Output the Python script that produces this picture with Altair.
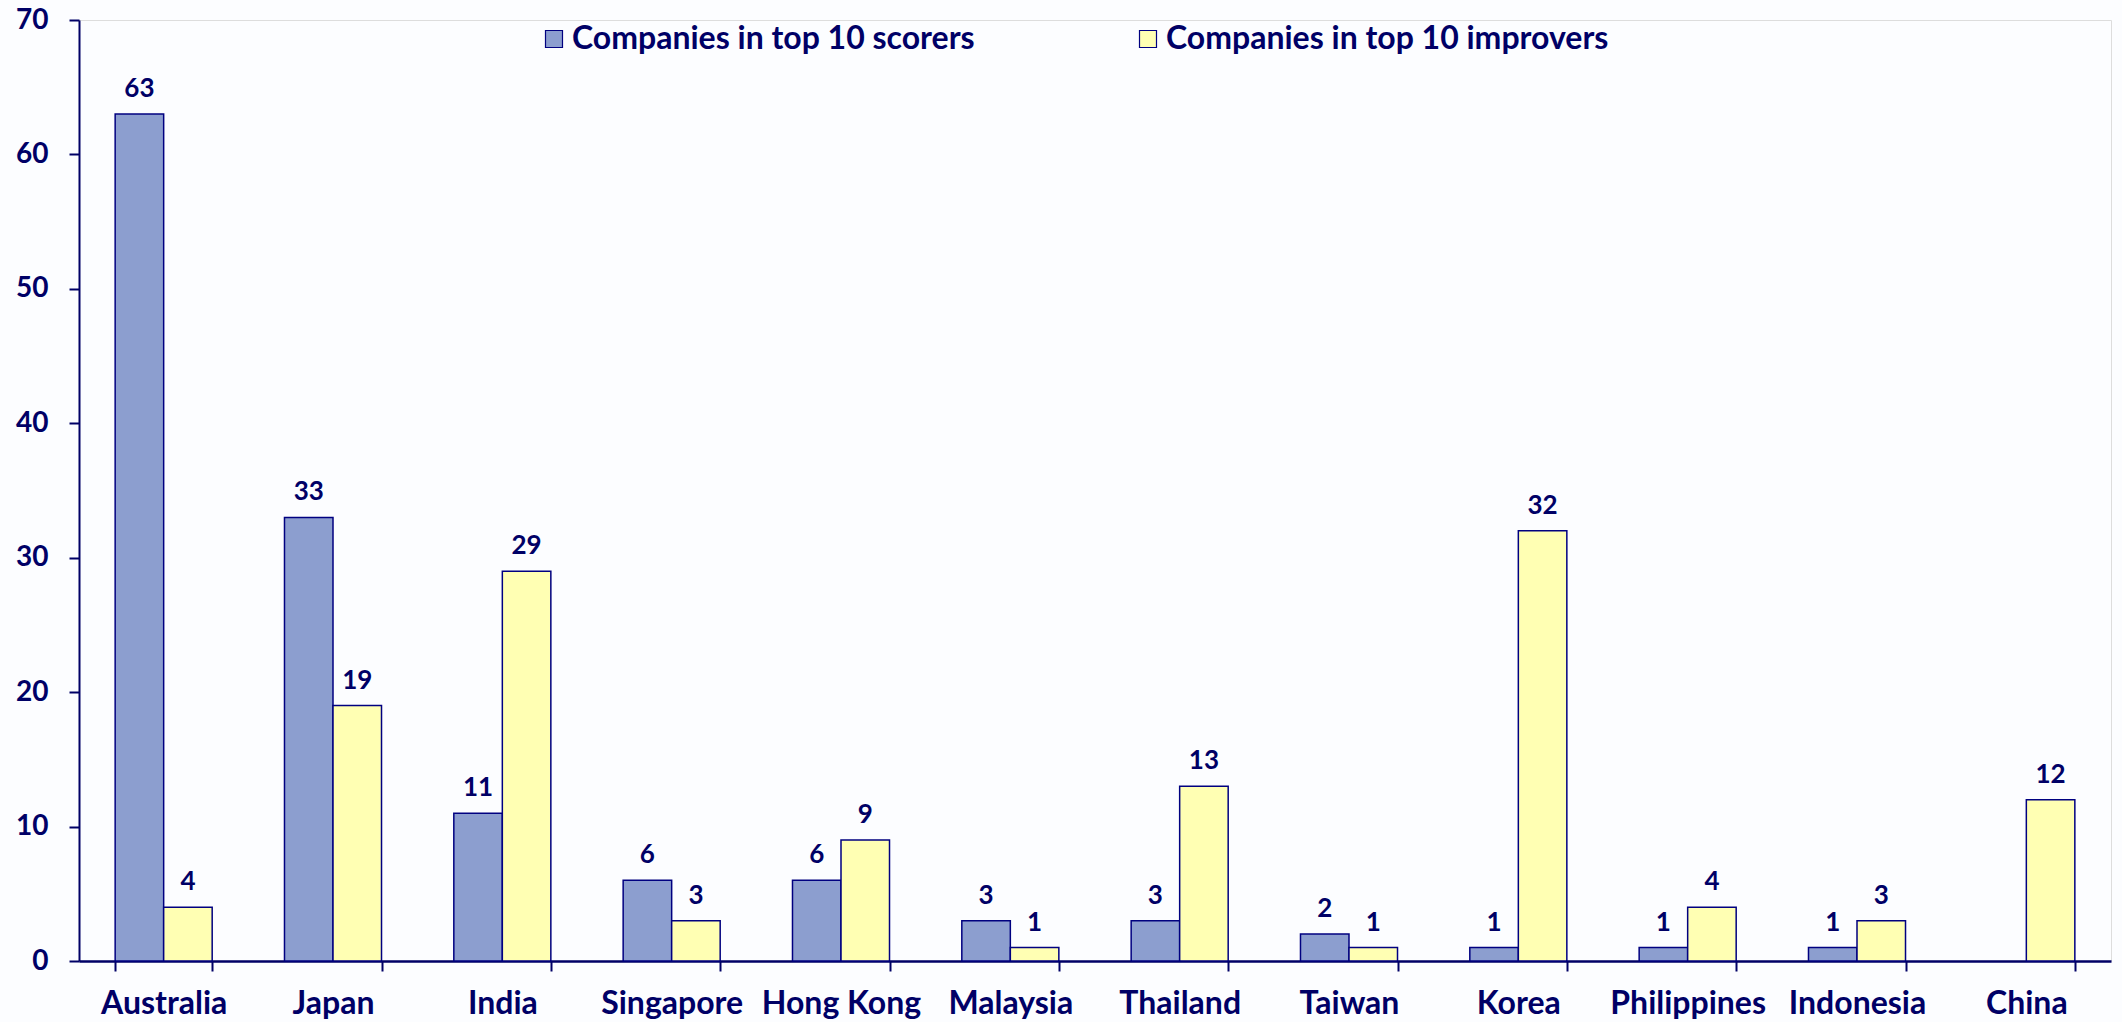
import altair as alt
import pandas as pd

countries = ["Australia", "Japan", "India", "Singapore", "Hong Kong", "Malaysia",
             "Thailand", "Taiwan", "Korea", "Philippines", "Indonesia", "China"]
scorers = [63, 33, 11, 6, 6, 3, 3, 2, 1, 1, 1, 0]
improvers = [4, 19, 29, 3, 9, 1, 13, 1, 32, 4, 3, 12]
series = ["Companies in top 10 scorers", "Companies in top 10 improvers"]
colors = ["#8C9ECF", "#FFFFB3"]
y_ticks = [0, 10, 20, 30, 40, 50, 60, 70]

rows = []
for c, s, i in zip(countries, scorers, improvers):
    rows.append({"country": c, "series": series[0], "value": s})
    rows.append({"country": c, "series": series[1], "value": i})
df = pd.DataFrame(rows)

NAVY = "#000066"
FONT = "Lato"

x_enc = alt.X("country:N", sort=countries, title=None,
              scale=alt.Scale(paddingInner=0.427, paddingOuter=0.2135),
              axis=alt.Axis(tickBand="extent", tickSize=10, tickWidth=2, tickColor=NAVY,
                            domainColor=NAVY, domainWidth=2.5, labelAngle=0,
                            labelFontSize=32, labelFontWeight="bold", labelColor=NAVY,
                            labelFont=FONT, labelPadding=17, grid=False))
xo_enc = alt.XOffset("series:N", sort=series, scale=alt.Scale(paddingInner=0, paddingOuter=0))
y_enc = alt.Y("value:Q", title=None,
              scale=alt.Scale(domain=[0, 70], nice=False),
              axis=alt.Axis(values=y_ticks, tickSize=10, tickWidth=2, tickColor=NAVY,
                            domainColor=NAVY, domainWidth=2, labelFontSize=28,
                            labelFontWeight="bold", labelColor=NAVY, labelFont=FONT,
                            labelPadding=21, grid=False))

base = alt.Chart(df).transform_filter("datum.value > 0")

bars = base.mark_bar(stroke="#000080", strokeWidth=1.5).encode(
    x=x_enc,
    xOffset=xo_enc,
    y=y_enc,
    color=alt.Color("series:N", sort=series,
                    scale=alt.Scale(domain=series, range=colors),
                    legend=alt.Legend(title=None, orient="none", direction="horizontal",
                                      legendX=459, legendY=3, padding=0,
                                      symbolType="square", symbolSize=289,
                                      symbolStrokeColor="#000080", symbolStrokeWidth=1.2,
                                      labelFontSize=32, labelFontWeight="bold",
                                      labelColor=NAVY, labelFont=FONT, labelOffset=2,
                                      columnPadding=157, labelLimit=1000)),
)

labels = base.mark_text(fontSize=26, fontWeight="bold", font=FONT, color=NAVY,
                        baseline="alphabetic", dy=-17).encode(
    x=alt.X("country:N", sort=countries),
    xOffset=alt.XOffset("series:N", sort=series),
    y="value:Q",
    text="value:Q",
)

chart = (bars + labels).properties(
    width=2032, height=941,
    autosize=alt.AutoSizeParams(type="none"),
    padding={"left": 79, "top": 20, "right": 11, "bottom": 61},
    background="#FCFDFF",
).configure_view(stroke=None).configure(font=FONT)

chart.save("out.html", embed_options={"renderer": "svg", "actions": False})
